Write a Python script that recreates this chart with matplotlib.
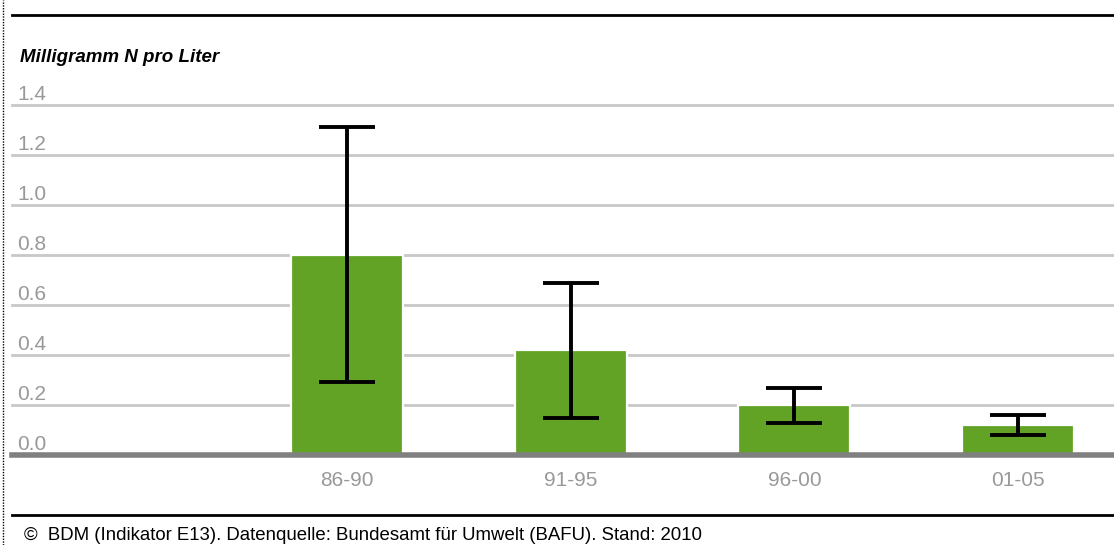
import numpy as np
import matplotlib.pyplot as plt
from matplotlib.lines import Line2D

plt.rcParams['font.family'] = ['Liberation Sans', 'DejaVu Sans']

periods = ["86-90", "91-95", "96-00", "01-05"]
mean_n = [0.80, 0.42, 0.20, 0.12]
low_n = [0.292, 0.148, 0.128, 0.080]
high_n = [1.312, 0.688, 0.268, 0.160]
y_ticks = [0.0, 0.2, 0.4, 0.6, 0.8, 1.0, 1.2, 1.4]

W, H = 1114, 545
fig = plt.figure(figsize=(W / 100, H / 100), dpi=100)
ax = fig.add_axes([12 / W, (H - 455) / H, 1 - 12 / W, 350 / H])

x = np.arange(len(periods))
mean = np.array(mean_n)
yerr = [mean - np.array(low_n), np.array(high_n) - mean]

# gridlines and tick labels sitting above them
for t in y_ticks[1:]:
    ax.axhline(t, color='#c8c8c8', lw=2, zorder=1, clip_on=False)
for t in y_ticks:
    ax.annotate(f"{t:.1f}", xy=(5 / (W - 12), t), xycoords=('axes fraction', 'data'),
                xytext=(0, 3.5), textcoords='offset points', va='baseline', ha='left',
                color='#999999', fontsize=15)

ax.bar(x, mean, width=0.5, color='#62a325', edgecolor='white', linewidth=1.6, zorder=2)
ax.errorbar(x, mean, yerr=yerr, fmt='none', ecolor='black', elinewidth=2.8,
            capsize=20, capthick=2.8, zorder=3)
ax.axhline(0, color='#808080', lw=4, zorder=4, clip_on=False)

ax.set_xlim(-1.5, 3.43)
ax.set_ylim(0, 1.4)
ax.axis('off')
for xi, lab in zip(x, periods):
    ax.annotate(lab, xy=(xi, 0), xycoords='data', xytext=(0, -18.5), textcoords='offset points',
                ha='center', va='center', color='#999999', fontsize=15)

# frame lines and texts
fig.add_artist(Line2D([12 / W, 1], [1 - 15 / H, 1 - 15 / H], color='black', lw=2))
fig.add_artist(Line2D([12 / W, 1], [1 - 515 / H, 1 - 515 / H], color='black', lw=2))
fig.add_artist(Line2D([3 / W, 3 / W], [0, 1], color='black', lw=1, ls=(0, (1, 1))))
fig.text(20 / W, 1 - 57 / H, "Milligramm N pro Liter", fontsize=13.5, fontweight='bold',
         fontstyle='italic', va='center', ha='left')
fig.text(24 / W, 1 - 535 / H,
         "©  BDM (Indikator E13). Datenquelle: Bundesamt für Umwelt (BAFU). Stand: 2010",
         fontsize=13.4, va='center', ha='left')

fig.savefig('out.png', dpi=100)
